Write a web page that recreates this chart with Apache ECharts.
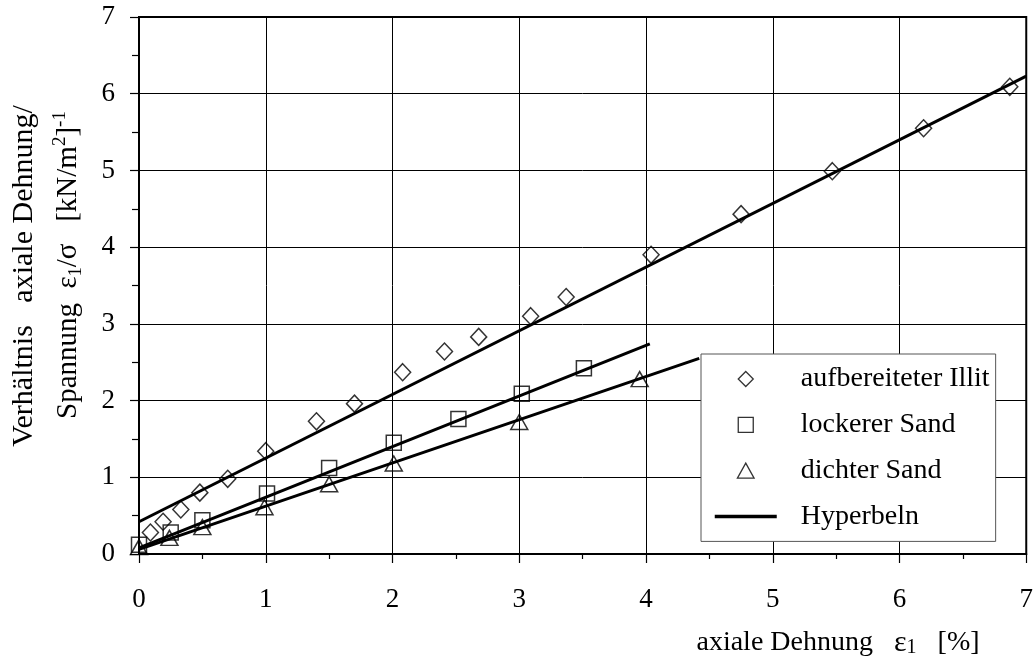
<!DOCTYPE html>
<html>
<head>
<meta charset="utf-8">
<script src="https://cdn.jsdelivr.net/npm/echarts@6/dist/echarts.min.js"></script>
<style>
  html, body { margin: 0; padding: 0; background: #fff; }
  #chart { width: 1036px; height: 657px; }
</style>
</head>
<body>
<div id="chart"></div>
<script>
// Axial strain eps1 [%] and ratio eps1/sigma [(kN/m²)^-1]
const xTickValues = [0, 1, 2, 3, 4, 5, 6, 7];
const yTickValues = [0, 1, 2, 3, 4, 5, 6, 7];

// aufbereiteter Illit
const illitStrain = [0.09, 0.19, 0.33, 0.48, 0.70, 1.00, 1.40, 1.70, 2.08, 2.41, 2.68, 3.09, 3.37, 4.04, 4.75, 5.47, 6.19, 6.87];
const illitRatio  = [0.28, 0.42, 0.58, 0.80, 0.98, 1.34, 1.73, 1.96, 2.37, 2.64, 2.83, 3.10, 3.35, 3.90, 4.43, 4.99, 5.55, 6.09];

// lockerer Sand
const looseStrain = [0.00, 0.25, 0.50, 1.01, 1.50, 2.01, 2.52, 3.02, 3.51];
const looseRatio  = [0.12, 0.28, 0.44, 0.79, 1.12, 1.45, 1.76, 2.09, 2.42];

// dichter Sand
const denseStrain = [0.00, 0.24, 0.50, 0.99, 1.50, 2.01, 3.00, 3.95];
const denseRatio  = [0.09, 0.21, 0.35, 0.61, 0.91, 1.18, 1.72, 2.28];

// Hyperbolic fits (straight lines in the eps1/sigma - eps1 plane): end points
const illitFitStrain = [0, 7];
const illitFitRatio  = [0.42, 6.23];
const looseFitStrain = [0, 4.03];
const looseFitRatio  = [0.08, 2.74];
const denseFitStrain = [0, 4.42];
const denseFitRatio  = [0.06, 2.55];

const zip = (xs, ys) => xs.map((x, i) => [x, ys[i]]);

const FONT = '"Liberation Serif", "Times New Roman", serif';
const chart = echarts.init(document.getElementById('chart'), null, { renderer: 'canvas' });

// Outline-only markers; path icons keep their aspect ratio inside the legend
const DIAMOND = 'path://M5,0L10,5L5,10L0,5Z';
const SQUARE = 'path://M0,0L10,0L10,10L0,10Z';
const TRIANGLE = 'path://M5,0L10,9L0,9Z';

const markerStyle = { color: 'rgba(255,255,255,0)', borderColor: '#000', borderWidth: 1.5 };
const legendMarker = { color: 'rgba(255,255,255,0)', borderColor: '#000', borderWidth: 1.3 };
const fitLine = (data) => ({
  name: 'Hyperbeln', type: 'line', data, symbol: 'none', silent: true,
  lineStyle: { color: '#000', width: 3 }, itemStyle: { color: '#000' }
});

chart.setOption({
  animation: false,
  backgroundColor: '#fff',
  textStyle: { fontFamily: FONT, color: '#000' },
  grid: { left: 139, right: 9, top: 17, bottom: 103, show: true, borderColor: '#000', borderWidth: 2, backgroundColor: 'transparent' },
  xAxis: {
    type: 'value', min: 0, max: 7, interval: 1,
    axisLine: { show: true, onZero: false, lineStyle: { color: '#000', width: 2 } },
    axisTick: { show: true, length: 9, lineStyle: { color: '#000', width: 1.2 } },
    minorTick: { show: true, splitNumber: 2, length: 5, lineStyle: { color: '#000', width: 1.2 } },
    splitLine: { show: true, lineStyle: { color: '#000', width: 1 } },
    axisLabel: { margin: 32, fontSize: 27, fontFamily: FONT, color: '#000',
      formatter: (v) => xTickValues.includes(v) ? String(v) : '' }
  },
  yAxis: {
    type: 'value', min: 0, max: 7, interval: 1,
    axisLine: { show: true, onZero: false, lineStyle: { color: '#000', width: 2 } },
    axisTick: { show: true, length: 9, lineStyle: { color: '#000', width: 1.2 } },
    minorTick: { show: true, splitNumber: 2, length: 7, lineStyle: { color: '#000', width: 1.2 } },
    splitLine: { show: true, lineStyle: { color: '#000', width: 1 } },
    axisLabel: { margin: 24, fontSize: 27, fontFamily: FONT, color: '#000',
      formatter: (v) => yTickValues.includes(v) ? String(v) : '' }
  },
  legend: {
    orient: 'vertical', left: 701, top: 354,
    padding: [10, 6, 10, 12],
    itemWidth: 62, itemHeight: 15, itemGap: 15.8,
    symbolKeepAspect: true,
    backgroundColor: '#fff', borderColor: '#555', borderWidth: 1,
    textStyle: { fontFamily: FONT, fontSize: 28, color: '#000', lineHeight: 30, padding: [0, 0, 0, 19] },
    data: [
      { name: 'aufbereiteter Illit', icon: DIAMOND, itemStyle: legendMarker },
      { name: 'lockerer Sand', icon: SQUARE, itemStyle: legendMarker },
      { name: 'dichter Sand', icon: TRIANGLE, itemStyle: legendMarker },
      { name: 'Hyperbeln', itemStyle: { color: 'rgba(0,0,0,0)', borderWidth: 0 }, lineStyle: { color: '#000', width: 3.5 } }
    ],
    selectedMode: false
  },
  graphic: [
    {
      type: 'text', x: 24, y: 276, rotation: Math.PI / 2,
      style: { text: 'Verhältnis   axiale Dehnung/', font: '30px ' + FONT, fill: '#000', align: 'center', verticalAlign: 'middle' }
    },
    {
      type: 'text', x: 68, y: 265, rotation: Math.PI / 2,
      style: {
        text: 'Spannung  {m|ε}{s|1}{m|/σ}   [kN/m{p|2}]{p|-1}',
        font: '29px ' + FONT, fill: '#000', align: 'center', verticalAlign: 'middle',
        rich: {
          m: { fontFamily: FONT, fontSize: 29, lineHeight: 34 },
          s: { fontFamily: FONT, fontSize: 18, lineHeight: 18, verticalAlign: 'bottom' },
          p: { fontFamily: FONT, fontSize: 19, lineHeight: 19, verticalAlign: 'top' }
        }
      }
    },
    {
      type: 'text', x: 838, y: 643,
      style: {
        text: 'axiale Dehnung   {m|ε}{s|1}   [%]',
        font: '28px ' + FONT, fill: '#000', align: 'center', verticalAlign: 'middle',
        rich: {
          m: { fontFamily: FONT, fontSize: 30, lineHeight: 30 },
          s: { fontFamily: FONT, fontSize: 20, lineHeight: 26, verticalAlign: 'bottom' }
        }
      }
    }
  ],
  series: [
    { name: 'aufbereiteter Illit', type: 'scatter', symbol: 'diamond', symbolSize: [16, 17], data: zip(illitStrain, illitRatio), itemStyle: markerStyle },
    { name: 'lockerer Sand', type: 'scatter', symbol: 'rect', symbolSize: 15, data: zip(looseStrain, looseRatio), itemStyle: markerStyle },
    { name: 'dichter Sand', type: 'scatter', symbol: 'triangle', symbolSize: [17, 15], data: zip(denseStrain, denseRatio), itemStyle: markerStyle },
    fitLine(zip(illitFitStrain, illitFitRatio)),
    fitLine(zip(looseFitStrain, looseFitRatio)),
    fitLine(zip(denseFitStrain, denseFitRatio))
  ]
});
</script>
</body>
</html>
